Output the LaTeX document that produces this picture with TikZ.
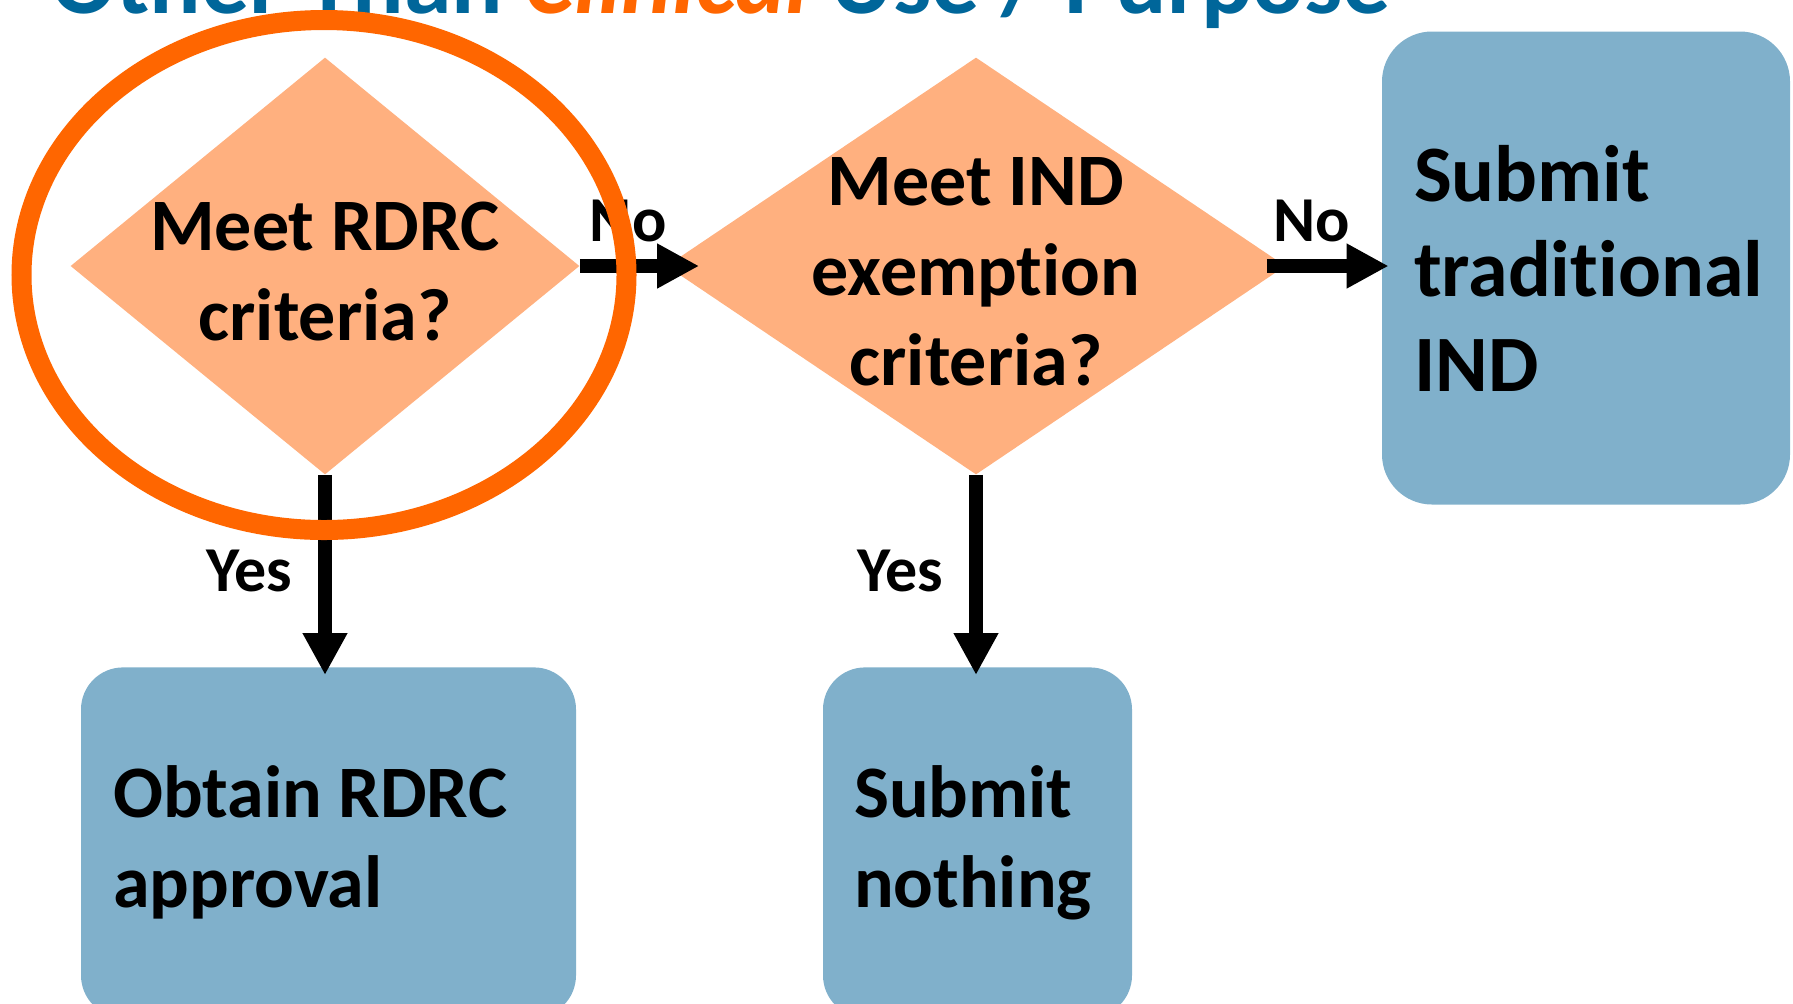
\documentclass[tikz,border=0pt]{standalone}
\usepackage{fontspec}
\setmainfont{Carlito}[Ligatures=NoCommon,Contextuals=NoAlternate]
\usepackage{xcolor}
\usetikzlibrary{arrows.meta,positioning,shapes.geometric}
\definecolor{titleblue}{HTML}{00669A}
\definecolor{hiorange}{HTML}{FF6600}
\definecolor{peach}{HTML}{FFB07F}
\definecolor{boxblue}{HTML}{80B0CB}
\tikzset{
  question/.style={diamond,fill=peach,draw=none,inner sep=0pt},
  qtext/.style={align=center,inner sep=0pt,
                font=\fontsize{37}{45}\selectfont\bfseries},
  outcome/.style={draw=none,fill=boxblue,rounded corners=21pt,align=flush left,
                  inner ysep=0pt,font=\fontsize{37}{45}\selectfont\bfseries},
  flow/.style={-{Triangle[length=21pt,width=21pt]},line width=7pt,draw=black},
  answer/.style={inner sep=0pt,font=\fontsize{32}{38}\selectfont\bfseries},
  hilite/.style={draw=hiorange,line width=10pt}
}
\begin{document}
\begin{tikzpicture}[x=0.5pt,y=-0.5pt]
    \clip (0,0) rectangle (1793,1003);
    \node[inner sep=0pt,anchor=base west,text=titleblue,
          font=\fontsize{48}{56}\selectfont\bfseries] (title) at (51,13)
      {Other Than \textcolor{hiorange}{\itshape Clinical} Use / Purpose};

    % decisions
    \node[question,minimum width=254.5pt,minimum height=208.5pt,
          label={[qtext,yshift=-2.5pt]center:Meet RDRC\\criteria?}] (rdrcq) at (325,266) {};
    \node[question,minimum width=309.5pt,minimum height=208.5pt,
          label={[qtext,yshift=-3pt]center:Meet IND\\exemption\\criteria?}] (indq) at (976,266) {};

    % outcomes
    \node[outcome,rounded corners=25pt,text width=172pt,inner xsep=16pt,
          minimum height=236.5pt,font=\fontsize{40}{47.5}\selectfont\bfseries]
      (indbox) at (1586,268) {Submit\\traditional\\IND};
    \node[outcome,text width=215.5pt,inner xsep=16pt,minimum height=175pt,
          anchor=north] (rdrcbox) at (328.5,667) {Obtain RDRC\\approval};
    \node[outcome,text width=123.5pt,inner xsep=15.5pt,minimum height=175pt,
          anchor=north] (nothing) at (977.5,667) {Submit\\nothing};

    \draw[flow,shorten >=-16.5pt] (rdrcq.east) --
      node[answer,pos=0.56,above=8.5pt] {No} (indq.west);
    \draw[flow,shorten <=-9.5pt,shorten >=-3.5pt] (indq.east) --
      node[answer,pos=0.27,above=8.5pt] {No} (indq.east -| indbox.west);
    \draw[flow,shorten >=-4pt] (rdrcq.south) --
      node[answer,left=13pt] {Yes} (rdrcq.south |- rdrcbox.north);
    \draw[flow,shorten >=-4pt] (indq.south) --
      node[answer,left=13pt] {Yes} (indq.south |- nothing.north);

    \draw[hilite] (rdrcq.center) ++(-1,9) ellipse [x radius=151.25pt,y radius=127.5pt];
  \end{tikzpicture}
\end{document}
